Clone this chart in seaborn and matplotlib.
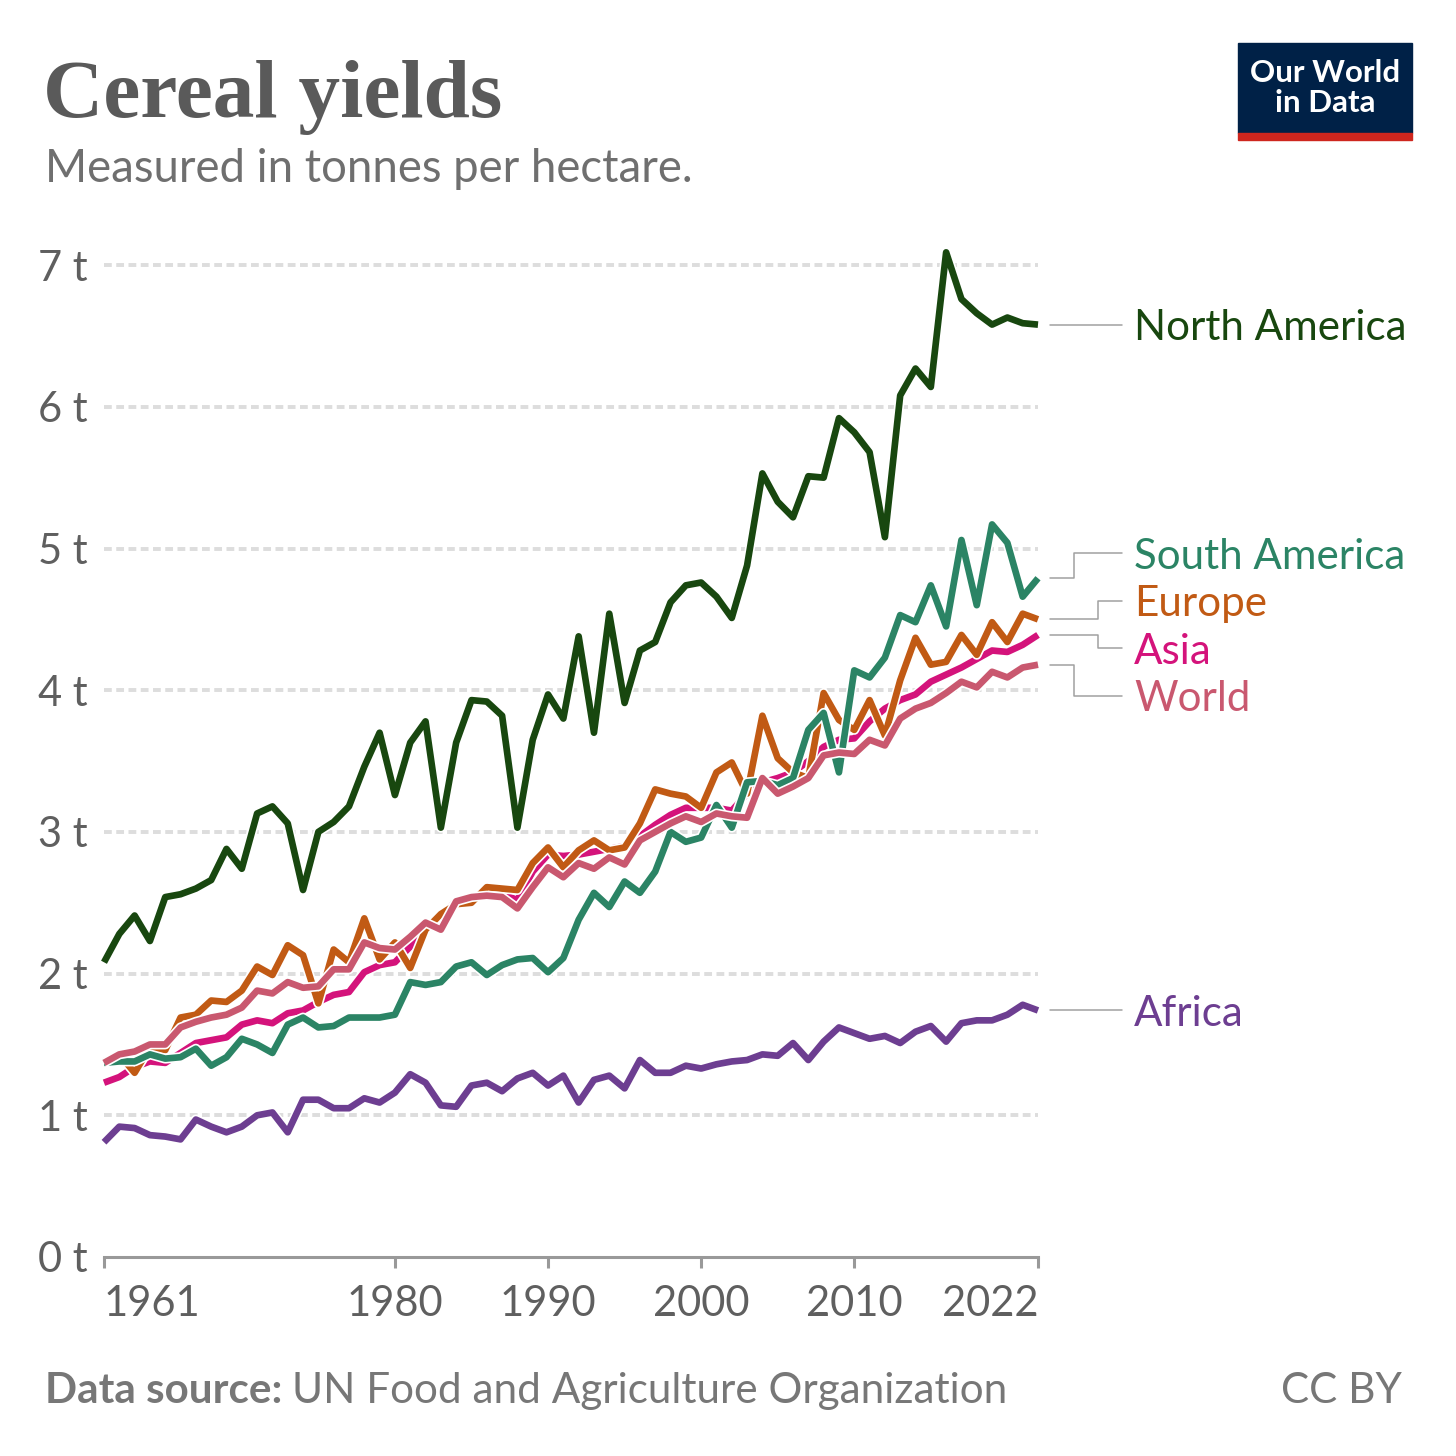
import numpy as np
import pandas as pd
import matplotlib
matplotlib.use("Agg")
import matplotlib.pyplot as plt
import matplotlib.patheffects as pe
from matplotlib.patches import Rectangle
import seaborn as sns

# Cereal yields, tonnes per hectare
years = list(range(1961, 2023))

north_america = [2.08, 2.28, 2.41, 2.23, 2.54, 2.56, 2.60, 2.66, 2.88, 2.74,
                 3.13, 3.18, 3.06, 2.59, 3.00, 3.07, 3.18, 3.46, 3.70, 3.26,
                 3.63, 3.78, 3.03, 3.63, 3.93, 3.92, 3.82, 3.03, 3.65, 3.97,
                 3.80, 4.38, 3.70, 4.54, 3.91, 4.28, 4.34, 4.62, 4.74, 4.76,
                 4.66, 4.51, 4.88, 5.53, 5.33, 5.22, 5.51, 5.50, 5.92, 5.82,
                 5.68, 5.08, 6.08, 6.27, 6.14, 7.09, 6.76, 6.66, 6.58, 6.63,
                 6.59, 6.58]
south_america = [1.37, 1.38, 1.38, 1.43, 1.40, 1.41, 1.47, 1.35, 1.41, 1.54,
                 1.50, 1.44, 1.64, 1.69, 1.62, 1.63, 1.69, 1.69, 1.69, 1.71,
                 1.94, 1.92, 1.94, 2.05, 2.08, 1.99, 2.06, 2.10, 2.11, 2.01,
                 2.11, 2.38, 2.57, 2.47, 2.65, 2.57, 2.72, 3.00, 2.93, 2.96,
                 3.19, 3.03, 3.35, 3.36, 3.33, 3.38, 3.72, 3.84, 3.42, 4.14,
                 4.09, 4.23, 4.53, 4.48, 4.74, 4.45, 5.06, 4.60, 5.17, 5.04,
                 4.66, 4.79]
europe = [1.38, 1.43, 1.30, 1.48, 1.46, 1.69, 1.71, 1.81, 1.80, 1.88,
          2.05, 1.99, 2.20, 2.13, 1.79, 2.17, 2.08, 2.39, 2.10, 2.22,
          2.04, 2.31, 2.42, 2.49, 2.50, 2.61, 2.60, 2.59, 2.78, 2.89,
          2.75, 2.87, 2.94, 2.87, 2.89, 3.06, 3.30, 3.27, 3.25, 3.17,
          3.42, 3.49, 3.27, 3.82, 3.52, 3.42, 3.38, 3.98, 3.79, 3.72,
          3.93, 3.68, 4.07, 4.37, 4.18, 4.20, 4.39, 4.25, 4.48, 4.34,
          4.54, 4.50]
asia = [1.23, 1.27, 1.34, 1.38, 1.37, 1.44, 1.51, 1.53, 1.55, 1.64,
        1.67, 1.65, 1.72, 1.74, 1.80, 1.85, 1.87, 2.01, 2.06, 2.08,
        2.19, 2.30, 2.41, 2.51, 2.52, 2.57, 2.56, 2.52, 2.72, 2.84,
        2.83, 2.84, 2.86, 2.88, 2.90, 2.97, 3.05, 3.12, 3.17, 3.17,
        3.17, 3.15, 3.27, 3.35, 3.38, 3.42, 3.50, 3.60, 3.65, 3.66,
        3.78, 3.87, 3.93, 3.97, 4.06, 4.11, 4.16, 4.22, 4.28, 4.27,
        4.32, 4.39]
world = [1.37, 1.43, 1.45, 1.50, 1.50, 1.62, 1.66, 1.69, 1.71, 1.76,
         1.88, 1.86, 1.94, 1.90, 1.91, 2.03, 2.03, 2.22, 2.18, 2.17,
         2.26, 2.36, 2.31, 2.51, 2.54, 2.55, 2.54, 2.46, 2.61, 2.75,
         2.68, 2.78, 2.74, 2.82, 2.77, 2.94, 3.00, 3.06, 3.11, 3.07,
         3.13, 3.11, 3.10, 3.38, 3.27, 3.32, 3.38, 3.54, 3.56, 3.55,
         3.65, 3.61, 3.80, 3.87, 3.91, 3.98, 4.06, 4.02, 4.13, 4.09,
         4.16, 4.18]
africa = [0.81, 0.92, 0.91, 0.86, 0.85, 0.83, 0.97, 0.92, 0.88, 0.92,
          1.00, 1.02, 0.88, 1.11, 1.11, 1.05, 1.05, 1.12, 1.09, 1.16,
          1.29, 1.23, 1.07, 1.06, 1.21, 1.23, 1.17, 1.26, 1.30, 1.21,
          1.28, 1.09, 1.25, 1.28, 1.19, 1.39, 1.30, 1.30, 1.35, 1.33,
          1.36, 1.38, 1.39, 1.43, 1.42, 1.51, 1.39, 1.52, 1.62, 1.58,
          1.54, 1.56, 1.51, 1.59, 1.63, 1.52, 1.65, 1.67, 1.67, 1.71,
          1.78, 1.74]

series = {
    "Africa": africa,
    "Asia": asia,
    "Europe": europe,
    "North America": north_america,
    "South America": south_america,
    "World": world,
}
regions = list(series.keys())
colors = {
    "Africa": "#6D3E91",
    "Asia": "#D4137B",
    "Europe": "#C15A14",
    "North America": "#18470F",
    "South America": "#2B8465",
    "World": "#C9586F",
}
xticks = [1961, 1980, 1990, 2000, 2010, 2022]
yticks = [0, 1, 2, 3, 4, 5, 6, 7]

df = pd.concat([pd.DataFrame({"year": years, "value": v, "region": r})
                for r, v in series.items()], ignore_index=True)

# layout in pixels
W = H = 1456
def fx(px):
    return px / W
def fy(py):
    return 1 - py / H

sns.set_theme(style="white")
plt.rcParams['font.family'] = ['Lato', 'DejaVu Sans']

fig = plt.figure(figsize=(14.56, 14.56), dpi=100)
y_top = 7.15
x0_px, x1_px, y0_px, ppt = 104, 1038, 1257, 141.7
ax = fig.add_axes([fx(x0_px), fy(y0_px), fx(x1_px) - fx(x0_px),
                   fy(y0_px - y_top * ppt) - fy(y0_px)])

sns.lineplot(data=df, x="year", y="value", hue="region", hue_order=regions,
             palette=colors, linewidth=4.8, legend=False, estimator=None, ax=ax)
for ln in ax.lines:
    ln.set_linewidth(4.8)
    ln.set_path_effects([pe.Stroke(linewidth=7.2, foreground="white"), pe.Normal()])
    ln.set_clip_on(False)
    ln.set_solid_joinstyle("round")
    ln.set_solid_capstyle("butt")
    ln.set_zorder(3)

ax.set_xlim(1961, 2022)
ax.set_ylim(0, y_top)
ax.set_xlabel("")
ax.set_ylabel("")

ax.set_yticks(yticks)
ax.set_yticklabels([f"{v} t" for v in yticks])
ax.yaxis.grid(True, color="#dddddd", linewidth=2.8, linestyle=(0, (2, 1.15)))
ax.get_ygridlines()[0].set_visible(False)
ax.xaxis.grid(False)
ax.tick_params(axis="y", left=False, length=0, pad=12, labelsize=30, labelcolor="#5f5f5f")

ax.set_xticks(xticks)
ax.set_xticklabels([str(t) for t in xticks])
ax.tick_params(axis="x", bottom=True, length=8, width=2.2, color="#999999",
               labelsize=30, labelcolor="#5f5f5f", pad=12)
xl = ax.get_xticklabels()
xl[0].set_ha("left")
xl[-1].set_ha("right")

sns.despine(ax=ax, left=True)
ax.spines["bottom"].set_color("#999999")
ax.spines["bottom"].set_linewidth(2.2)

# end-of-line labels with de-overlap
ppx = (x1_px - x0_px) / (2022 - 1961)
def px_to_year(px):
    return 1961 + (px - x0_px) / ppx

ends = {r: series[r][-1] for r in regions}
gap = 0.335
order = sorted(regions, key=lambda r: ends[r], reverse=True)
clusters = [[r] for r in order]

def place(cl):
    c = np.mean([ends[r] for r in cl])
    n = len(cl)
    return {r: c + gap * ((n - 1) / 2 - i) for i, r in enumerate(cl)}

changed = True
while changed:
    changed = False
    for i in range(len(clusters) - 1):
        a = place(clusters[i])
        b = place(clusters[i + 1])
        if a[clusters[i][-1]] - b[clusters[i + 1][0]] < gap:
            clusters[i] = clusters[i] + clusters[i + 1]
            del clusters[i + 1]
            changed = True
            break

xs, xe, xt = px_to_year(1050), px_to_year(1122), px_to_year(1134)
for cl in clusters:
    pos = place(cl)
    n = len(cl)
    for i, r in enumerate(cl):
        ly = pos[r]
        ey = ends[r]
        d = abs(i - (n - 1) / 2)
        xm = px_to_year(1074 if d > 0.5 else 1098)
        if abs(ly - ey) < 0.02:
            ax.plot([xs, xe], [ey, ey], color="#a0a0a0", lw=1.1, clip_on=False)
        else:
            ax.plot([xs, xm, xm, xe], [ey, ey, ly, ly], color="#a0a0a0", lw=1.1,
                    clip_on=False)
        ax.text(xt, ly, r, color=colors[r], fontsize=30.3, ha="left",
                va="center_baseline", clip_on=False)

# header
fig.text(fx(43), fy(117), "Cereal yields", fontfamily="Liberation Serif",
         fontweight="bold", fontsize=60, color="#5a5a5a", va="baseline")
fig.text(fx(45), fy(169), "Measured in tonnes per hectare.", fontsize=32.8,
         color="#6f6f6f", va="center")

# logo
fig.patches.append(Rectangle((fx(1238), fy(133)), fx(174), 90 / H,
                             transform=fig.transFigure, color="#002147"))
fig.patches.append(Rectangle((fx(1238), fy(140)), fx(174), 7 / H,
                             transform=fig.transFigure, color="#CE261E"))
fig.text(fx(1325), fy(88), "Our World\nin Data", ha="center", va="center",
         color="white", fontweight="bold", fontsize=22.5, linespacing=1.12)

# footer
src = fig.text(fx(45), fy(1391), "Data source:", fontweight="bold", fontsize=30.4,
               color="#777777", va="center")
fig.canvas.draw()
bb = src.get_window_extent(renderer=fig.canvas.get_renderer())
fig.text(bb.x1 / W + fx(10), fy(1391), "UN Food and Agriculture Organization",
         fontsize=30.4, color="#777777", va="center")
fig.text(fx(1402), fy(1391), "CC BY", fontsize=30.4, color="#777777",
         ha="right", va="center")

fig.savefig("out.png", dpi=100)
